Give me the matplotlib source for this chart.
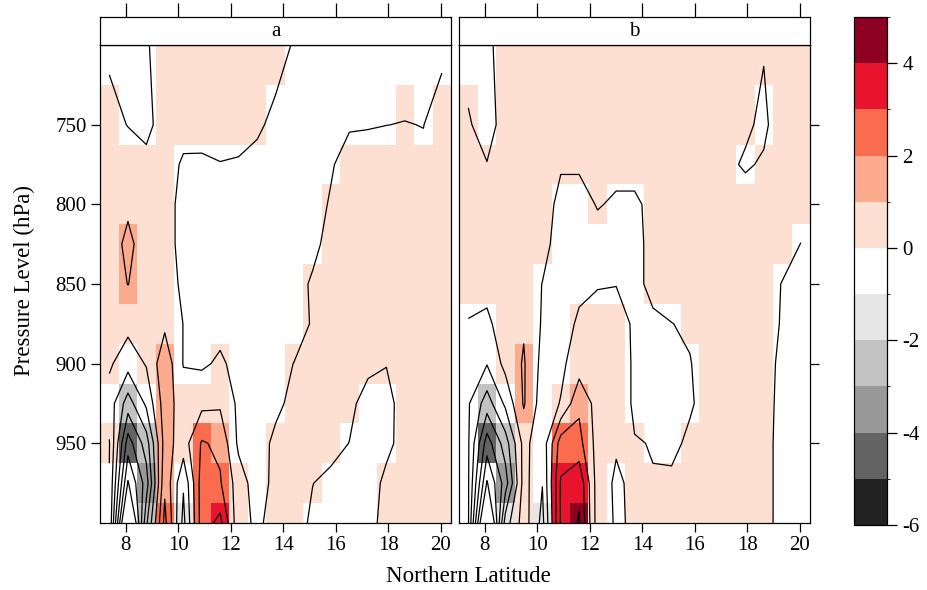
import matplotlib
matplotlib.use("Agg")  # headless

import matplotlib.pyplot as plt
import numpy as np
from matplotlib.cm import ScalarMappable
from matplotlib.colors import BoundaryNorm, ListedColormap

plt.rcParams["font.family"] = ["Liberation Serif", "DejaVu Serif"]
plt.rcParams["axes.unicode_minus"] = False
plt.rcParams["contour.negative_linestyle"] = "solid"

# grid: latitude centres (deg N) and pressure levels (hPa)
lat = [7.38, 8.09, 8.79, 9.49, 10.20, 10.90, 11.60, 12.30, 13.01, 13.71,
       14.41, 15.12, 15.82, 16.52, 17.23, 17.93, 18.63, 19.34, 20.04]
lev = [700, 750, 775, 800, 825, 850, 875, 900, 925, 950, 975, 1000]

cuts = [-6, -5, -4, -3, -2, -1, 0, 1, 2, 3, 4, 5]
bin_colors = ["#222222", "#636363", "#999999", "#c2c2c2", "#e6e6e6", "#ffffff",
              "#fde0d2", "#fcab8f", "#fb6c4f", "#e8142e", "#8e0021"]

# rows = levels (700 .. 1000), columns = latitudes
panel_a = [
    [-0.3, -0.5, -0.1, 0.5, 0.5, 0.5, 0.5, 0.5, 0.5, 0.5, -0.1, -0.5, -0.5, -0.5, -0.5, -0.5, -0.6, -0.5, -0.3],
    [0.5, -0.05, -0.3, 0.5, 0.4, 0.45, 0.5, 0.5, 0.2, -0.3, -0.5, -0.5, -0.3, -0.1, -0.07, -0.01, 0.03, -0.02, 0.55],
    [0.5, 0.8, 0.3, 0.5, -0.15, -0.18, -0.04, -0.12, -0.34, -0.5, -0.5, -0.4, -0.1, 0.43, 0.5, 0.5, 0.5, 0.2, 0.5],
    [0.5, 0.85, 0.5, 0.5, -0.4, -0.4, -0.4, -0.4, -0.4, -0.5, -0.5, -0.4, 0.1, 0.5, 0.5, 0.5, 0.5, 0.5, 0.5],
    [0.6, 1.2, 0.6, 0.5, -0.4, -0.4, -0.4, -0.4, -0.4, -0.5, -0.5, -0.3, 0.4, 0.5, 0.5, 0.5, 0.5, 0.5, 0.5],
    [0.5, 1.02, 0.5, 0.5, -0.2, -0.4, -0.4, -0.4, -0.4, -0.5, -0.45, 0.15, 0.5, 0.5, 0.5, 0.5, 0.5, 0.5, 0.5],
    [0.5, 0.3, 0.5, 0.8, -0.02, -0.3, -0.3, -0.5, -0.5, -0.5, -0.5, 0.1, 0.5, 0.5, 0.5, 0.3, 0.5, 0.5, 0.5],
    [0.15, -0.6, 0.08, 1.7, -0.05, -0.15, 0.15, -0.3, -0.5, -0.4, 0.02, 0.4, 0.5, 0.5, 0.3, 0.03, 0.5, 0.5, 0.5],
    [-0.45, -2.5, -0.8, 1.5, 0.5, 0.75, 0.85, -0.2, -0.5, -0.3, 0.35, 0.5, 0.5, 0.3, -0.5, -0.3, 0.4, 0.5, 0.5],
    [0.05, -4.5, -2.5, 1.4, 0.55, 2.1, 1.8, -0.2, -0.6, 0.3, 0.5, 0.5, 0.4, -0.02, -0.5, -0.2, 0.3, 0.5, 0.5],
    [-0.05, -6.1, -3.5, 1.8, -0.9, 2.5, 2.1, 0.5, -0.5, 0.3, 0.5, 0.02, -0.3, -0.5, -0.4, 0.2, 0.5, 0.5, 0.5],
    [-0.05, -9.0, -2.2, 2.3, -1.3, 2.5, 3.3, 0.3, -0.15, 0.3, 0.5, -0.2, -0.5, -0.5, -0.3, 0.3, 0.5, 0.5, 0.5],
]

panel_b = [
    [-0.45, -0.2, 0.4, 0.5, 0.5, 0.5, 0.5, 0.5, 0.5, 0.5, 0.5, 0.5, 0.5, 0.5, 0.5, 0.5, 0.11, 0.5, 0.5],
    [0.12, -0.5, 0.5, 0.5, 0.5, 0.5, 0.5, 0.5, 0.5, 0.5, 0.5, 0.5, 0.5, 0.5, 0.5, 0.25, -0.3, 0.9, 0.5],
    [0.5, 0.04, 0.5, 0.5, 0.5, 0.1, 0.1, 0.5, 0.2, 0.2, 0.5, 0.5, 0.5, 0.5, 0.3, -0.18, 0.18, 0.5, 0.5],
    [0.5, 0.5, 0.5, 0.5, 0.5, -0.3, -0.3, 0.05, -0.1, -0.1, 0.15, 0.5, 0.5, 0.5, 0.5, 0.68, 0.5, 0.5, 0.5],
    [0.5, 0.5, 0.5, 0.5, 0.3, -0.4, -0.4, -0.3, -0.3, -0.3, 0.3, 0.5, 0.5, 0.5, 0.5, 0.5, 0.5, 0.5, -0.02],
    [0.45, 0.3, 0.5, 0.5, -0.02, -0.5, -0.25, -0.05, -0.02, -0.3, 0.3, 0.5, 0.5, 0.5, 0.5, 0.5, 0.5, -0.05, -0.3],
    [-0.07, -0.2, 0.5, 0.9, -0.1, -0.5, 0.18, 0.3, 0.3, -0.1, -0.2, -0.02, 0.15, 0.5, 0.5, 0.5, 0.5, -0.1, -0.5],
    [-0.5, -0.95, 0.3, 1.1, -0.3, -0.2, 0.5, 0.5, 0.4, -0.1, -0.5, -0.5, -0.05, 0.5, 0.5, 0.5, 0.5, -0.3, -0.5],
    [-0.9, -2.5, -0.8, 1.1, -0.5, 0.05, 1.8, 0.6, 0.4, -0.1, -0.5, -0.5, -0.15, 0.5, 0.5, 0.5, 0.5, -0.4, -0.5],
    [-0.9, -4.5, -2.5, 0.33, -0.7, 2.5, 2.33, 0.6, 0.1, 0.03, -0.02, -0.3, 0.25, 0.5, 0.5, 0.5, 0.5, -0.5, -0.5],
    [-0.9, -6.1, -3.5, 0.4, -0.97, 3.1, 3.8, 0.5, -0.15, 0.2, 0.02, 0.23, 0.5, 0.5, 0.5, 0.5, 0.5, -0.5, -0.5],
    [-0.9, -9.0, -1.5, 0.5, -1.3, 3.1, 4.09, 0.5, -0.1, 0.1, 0.5, 0.5, 0.5, 0.5, 0.5, 0.5, 0.5, -0.5, -0.5],
]

x_ticks = [8, 10, 12, 14, 16, 18, 20]
y_ticks = [750, 800, 850, 900, 950]


def cell_edges(c):
    c = np.asarray(c, dtype=float)
    mid = (c[:-1] + c[1:]) / 2
    return np.concatenate([[c[0] - (c[1] - c[0]) / 2], mid, [c[-1] + (c[-1] - c[-2]) / 2]])


W, H = 927, 590
fig = plt.figure(figsize=(W / 100, H / 100), dpi=100)

cmap = ListedColormap(bin_colors)
cmap.set_under("white")
cmap.set_over(bin_colors[-1])
norm = BoundaryNorm(cuts, cmap.N)

xe = cell_edges(lat)
ye = cell_edges(lev)
xlim = (xe[0], xe[-1])
ylim = (1000, 700)

tick_kw = dict(direction="out", length=6.5, width=0.9, colors="black", labelsize=15)


def px_box(x0, y0, x1, y1):
    return [x0 / W, 1 - y1 / H, (x1 - x0) / W, (y1 - y0) / H]


for k, (name, data) in enumerate([("a", panel_a), ("b", panel_b)]):
    x0 = 100 if k == 0 else 459
    ax = fig.add_axes(px_box(x0, 45, x0 + 351, 523))
    z = np.array(data)
    ax.pcolormesh(xe, ye, z, cmap=cmap, norm=norm, shading="flat")
    ax.contour(lat, lev, z, levels=cuts, colors="black", linewidths=0.9)
    ax.set_xlim(*xlim)
    ax.set_ylim(*ylim)
    ax.set_xticks(x_ticks)
    ax.set_yticks(y_ticks)
    ax.tick_params(**tick_kw)
    ax.tick_params(axis="x", pad=3)
    if k == 0:
        ax.tick_params(axis="y", left=True, labelleft=True, right=False, pad=3)
    else:
        ax.tick_params(axis="y", left=False, labelleft=False,
                       right=True, labelright=False)
    for s in ax.spines.values():
        s.set_linewidth(0.9)

    strip = fig.add_axes(px_box(x0, 17, x0 + 351, 45))
    strip.set_xlim(*xlim)
    strip.set_yticks([])
    strip.set_xticks(x_ticks)
    strip.tick_params(axis="x", bottom=False, labelbottom=False,
                      top=True, labeltop=False, direction="out",
                      length=10, width=0.9)
    for s in strip.spines.values():
        s.set_linewidth(0.9)
    strip.text(0.5, 0.5, name, transform=strip.transAxes,
               ha="center", va="center", fontsize=15)

cax = fig.add_axes(px_box(854, 17, 887, 525))
cb = fig.colorbar(ScalarMappable(norm=norm, cmap=cmap), cax=cax,
                  ticks=[-6, -4, -2, 0, 2, 4], spacing="proportional")
cb.outline.set_linewidth(0.9)
cax.tick_params(direction="out", length=7, width=0.9, labelsize=15, pad=4)

fig.text(468 / W, 1 - 577 / H, "Northern Latitude", ha="center", va="center",
         fontsize=16.5)
fig.text(24 / W, 1 - 280 / H, "Pressure Level (hPa)", ha="center", va="center",
         rotation=90, fontsize=16.5)

fig.savefig("out.png", dpi=100)
